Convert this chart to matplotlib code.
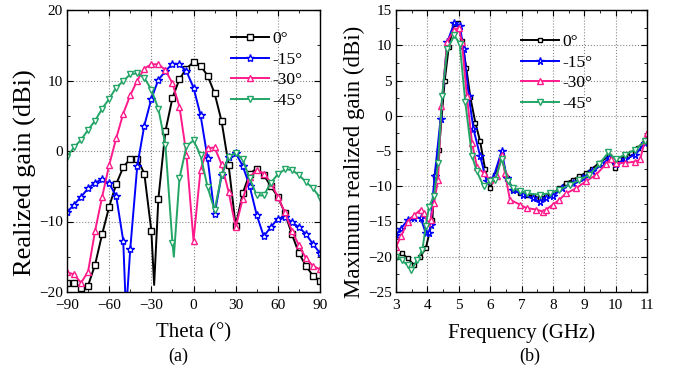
import numpy as np
import matplotlib
matplotlib.use("Agg")
import matplotlib.pyplot as plt
from matplotlib.ticker import MultipleLocator

plt.rcParams['font.family'] = ['Liberation Serif', 'DejaVu Serif']
plt.rcParams['mathtext.fontset'] = 'stix'

# ---- (a) realized gain vs theta ----
th_0 = [-90, -85, -80, -75, -70, -65, -60, -55, -50, -45, -40, -35, -30, -28, -25, -20, -15, -10, -5, 0,
        5, 10, 15, 20, 25, 30, 35, 40, 45, 50, 55, 60, 65, 70, 75, 80, 85, 90]
g_0 = [-18.7, -18.7, -19.4, -19.1, -16.1, -11.8, -7.9, -4.7, -2.3, -1.1, -1.1, -3.2, -11.3, -19.0, -6.8,
       2.8, 7.5, 10.2, 11.7, 12.6, 12.1, 10.7, 8.2, 4.2, -2.0, -10.6, -6.0, -3.2, -2.5, -3.4, -5.0, -6.5,
       -8.8, -11.8, -14.5, -16.3, -17.7, -18.4]

th_15 = [-90, -85, -80, -75, -70, -65, -60, -55, -50, -48, -45, -40, -35, -30, -25, -20, -15, -10, -5, 0,
         5, 10, 15, 20, 25, 30, 35, 40, 45, 50, 55, 60, 65, 70, 75, 80, 85, 90]
g_15 = [-8.7, -7.6, -6.5, -5.3, -4.5, -4.0, -4.6, -6.4, -12.7, -23.0, -13.9, -2.1, 3.6, 7.4, 10.1, 11.3,
        12.4, 12.3, 11.3, 9.0, 5.1, -1.0, -9.0, -3.4, -0.8, -0.3, -2.1, -5.0, -9.1, -12.1, -10.8, -9.6,
        -9.3, -10.1, -10.8, -11.8, -13.2, -14.5]

th_30 = [-90, -85, -80, -75, -70, -65, -60, -55, -50, -45, -40, -35, -30, -25, -20, -15, -10, -5, 0,
         5, 10, 15, 20, 25, 30, 35, 40, 45, 50, 55, 60, 65, 70, 75, 80, 85, 90]
g_30 = [-17.2, -17.5, -18.7, -17.1, -11.3, -6.5, -2.0, 1.8, 5.3, 7.9, 10.0, 11.7, 12.3, 12.3, 11.5, 9.6,
        6.3, -0.5, -12.7, -2.7, 0.4, 0.5, -1.9, -5.8, -10.8, -6.8, -3.7, -2.7, -3.2, -4.5, -6.5, -8.7,
        -11.3, -13.4, -15.2, -16.3, -16.8]

th_45 = [-90, -85, -80, -75, -70, -65, -60, -55, -50, -45, -40, -35, -30, -25, -20, -15, -14, -10, -5, 0,
         5, 10, 15, 20, 25, 30, 35, 40, 45, 50, 55, 60, 65, 70, 75, 80, 85, 90]
g_45 = [-0.8, 0.5, 1.6, 3.0, 4.3, 6.0, 7.4, 9.0, 9.9, 10.9, 11.0, 10.4, 8.7, 6.0, 0.9, -13.0, -15.0,
        -3.9, 0.7, 1.5, -0.6, -5.1, -8.4, -3.4, -0.8, -0.3, -1.2, -3.9, -6.3, -6.3, -4.5, -3.3, -2.6,
        -2.7, -3.4, -4.4, -5.3, -6.6]

# ---- (b) maximum realized gain vs frequency ----
f_0 = [3.0, 3.18, 3.37, 3.58, 3.77, 3.95, 4.16, 4.23, 4.37, 4.55, 4.68, 4.84, 4.97, 5.1, 5.24, 5.37,
       5.53, 5.68, 5.84, 6.0, 6.16, 6.37, 6.53, 6.74, 6.95, 7.16, 7.37, 7.58, 7.79, 8.0, 8.21, 8.42,
       8.63, 8.84, 9.05, 9.26, 9.47, 9.79, 9.98, 10.1, 10.3, 10.5, 10.7, 10.95]
m_0 = [-20, -19.5, -20.2, -21.2, -20, -18.8, -14.8, -8.6, -4.8, 4.9, 9.7, 13.0, 13.2, 10.6, 6.8, 2.6,
       -1.0, -3.6, -7.6, -10.3, -8.4, -5.7, -8.8, -10.5, -11, -11.2, -11.4, -11.7, -11.4, -11, -10.3,
       -9.5, -9.1, -8.6, -8.1, -7.5, -6.7, -5.7, -7.4, -6.2, -5.7, -5.3, -4.6, -3.4]

f_15 = [3.0, 3.16, 3.37, 3.58, 3.79, 3.95, 4.05, 4.1, 4.23, 4.42, 4.63, 4.86, 5.03, 5.16, 5.32, 5.47,
        5.68, 5.89, 6.1, 6.37, 6.53, 6.74, 7.05, 7.37, 7.58, 7.79, 8.0, 8.3, 8.63, 8.95, 9.26, 9.58,
        9.79, 10.0, 10.3, 10.63, 10.95]
m_15 = [-16.9, -16.0, -14.8, -14.5, -14.5, -16.7, -16.7, -15.5, -8.6, -0.5, 10.4, 13.2, 12.8, 9.4, 2.8,
        -1.9, -5.7, -9.3, -8.8, -5.0, -8.8, -10.5, -11.2, -11.7, -12.2, -11.7, -11.4, -10.3, -9.5, -8.8,
        -7.9, -6.9, -6.0, -6.9, -6.2, -5.5, -3.8]

f_30 = [3.0, 3.16, 3.37, 3.58, 3.79, 3.9, 4.0, 4.1, 4.21, 4.34, 4.45, 4.63, 4.84, 5.0, 5.1, 5.26, 5.42,
        5.58, 5.79, 6.0, 6.21, 6.37, 6.47, 6.63, 6.95, 7.16, 7.47, 7.68, 7.79, 8.0, 8.21, 8.42, 8.74,
        9.05, 9.37, 9.68, 9.84, 10.0, 10.3, 10.63, 10.78, 11.0]
m_30 = [-18.6, -17.1, -15.0, -14.1, -13.3, -13.8, -15.2, -14.8, -12.4, -9.1, 1.4, 10.5, 12.1, 12.5, 10.4,
        2.8, -3.8, -7.2, -8.1, -9.1, -8.6, -5.5, -8.1, -11.9, -12.6, -13.1, -13.3, -13.6, -13.3, -12.6,
        -11.9, -11.0, -10.3, -9.3, -8.4, -6.9, -6.2, -6.7, -6.7, -6.5, -6.2, -2.4]

f_45 = [3.0, 3.18, 3.37, 3.47, 3.68, 3.84, 3.95, 4.05, 4.21, 4.34, 4.47, 4.63, 4.86, 5.03, 5.21, 5.42,
        5.58, 5.79, 6.0, 6.16, 6.37, 6.58, 6.74, 6.95, 7.16, 7.58, 7.9, 8.21, 8.53, 8.84, 9.16, 9.47,
        9.77, 10.0, 10.3, 10.63, 10.95]
m_45 = [-20, -20.5, -21.2, -21.9, -20.5, -19, -15.7, -12.9, -11.4, -6.7, 2.8, 9.4, 11.4, 10.2, 1.9,
        -5.7, -7.9, -10, -9.3, -9.1, -6.1, -9.3, -10.3, -10.7, -11.0, -11.2, -11.0, -10.5, -9.8, -9.1,
        -8.4, -6.9, -5.2, -6.2, -5.5, -4.8, -3.6]

labels = ['0°', '-15°', '-30°', '-45°']
colors = ['black', '#0000ff', '#ff1a8c', '#23a566']
markers = ['s', '*', '^', 'v']
msizes = [4, 6, 5, 5]

fig = plt.figure(figsize=(6.86, 3.79), dpi=100)
ax1 = fig.add_axes([67 / 686, 1 - 292 / 379, 253 / 686, 282 / 379])
ax2 = fig.add_axes([396 / 686, 1 - 292 / 379, 251 / 686, 282 / 379])

series_a = [(th_0, g_0), (th_15, g_15), (th_30, g_30), (th_45, g_45)]
for (th, g), lab, c, mk, ms in zip(series_a, labels, colors, markers, msizes):
    th = np.array(th)
    every = list(np.where(th % 5 == 0)[0])
    ax1.plot(th, g, color=c, lw=1.4, marker=mk, ms=ms, mfc='white', mec=c, mew=1.0,
             markevery=every, label=lab)

series_b = [(f_0, m_0), (f_15, m_15), (f_30, m_30), (f_45, m_45)]
for (f, m), lab, c, mk, ms in zip(series_b, labels, colors, markers, msizes):
    ax2.plot(f, m, color=c, lw=1.4, marker=mk, ms=ms - 0.5, mfc='white', mec=c, mew=1.0, label=lab)

ax1.set_xlim(-90, 90)
ax1.set_ylim(-20, 20)
ax1.xaxis.set_major_locator(MultipleLocator(30))
ax1.xaxis.set_minor_locator(MultipleLocator(15))
ax1.yaxis.set_major_locator(MultipleLocator(10))
ax1.yaxis.set_minor_locator(MultipleLocator(5))
ax1.set_xlabel('Theta (°)', fontsize=15, labelpad=8)
ax1.set_ylabel('Realized gain (dBi)', fontsize=19)
ax1.yaxis.set_label_coords(-0.119, 0.422)

ax2.set_xlim(3, 11)
ax2.set_ylim(-25, 15)
ax2.xaxis.set_major_locator(MultipleLocator(1))
ax2.xaxis.set_minor_locator(MultipleLocator(0.5))
ax2.yaxis.set_major_locator(MultipleLocator(5))
ax2.yaxis.set_minor_locator(MultipleLocator(2.5))
ax2.set_xlabel('Frequency (GHz)', fontsize=15, labelpad=8)
ax2.set_ylabel('Maximum realized gain (dBi)', fontsize=16.5)
ax2.yaxis.set_label_coords(-0.124, 0.461)

legend_anchor = [(0.648, 0.925), (0.498, 0.915)]
for ax, anchor in zip((ax1, ax2), legend_anchor):
    ax.grid(True, which='major', linestyle=':', color='#888888', lw=0.8)
    ax.tick_params(which='both', direction='in', top=True, right=True, labelsize=11)
    ax.tick_params(axis='x', which='both', pad=5)
    ax.tick_params(axis='y', which='both', pad=3)
    ax.tick_params(which='major', length=4)
    ax.tick_params(which='minor', length=2)
    for s in ax.spines.values():
        s.set_linewidth(1.0)
    ax.legend(loc='upper left', bbox_to_anchor=anchor, frameon=False, fontsize=12.5,
              handlelength=2.2, handletextpad=0.2, labelspacing=0.25, borderpad=0,
              borderaxespad=0)

fig.text(178 / 686, 1 - 356 / 379, '(a)', fontsize=13, ha='center', va='center')
fig.text(530 / 686, 1 - 356 / 379, '(b)', fontsize=13, ha='center', va='center')

fig.savefig('out.png', dpi=100)
